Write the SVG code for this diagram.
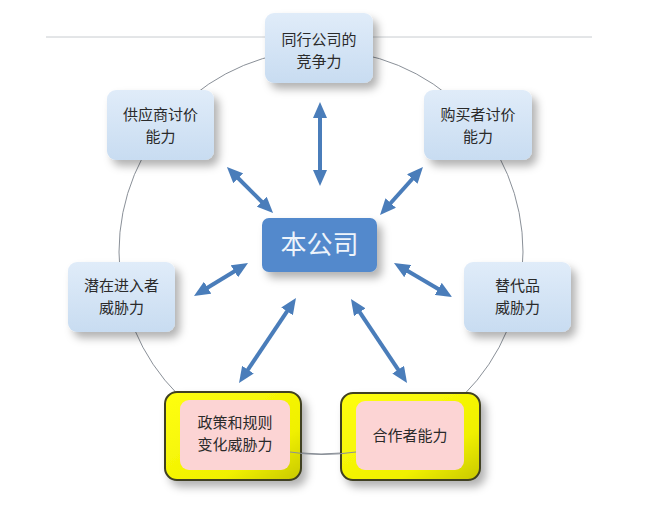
<svg xmlns="http://www.w3.org/2000/svg" width="658" height="524" viewBox="0 0 658 524">
<style>
.t{font-family:"Noto Sans CJK SC","Noto Sans",sans-serif;font-size:15px;fill:#2a2a2a;text-anchor:middle}
.bl{fill:url(#gb);filter:url(#sh)}
.ye{fill:url(#gy);stroke:#3f4020;stroke-width:2;filter:url(#sh)}
.pk{fill:#fcd4d4}
.ar{stroke:#4a7dba;stroke-width:4;fill:none;marker-start:url(#ah);marker-end:url(#ah)}
</style>
<defs>
<linearGradient id="gb" x1="0" y1="0" x2="0" y2="1"><stop offset="0" stop-color="#e0ecf9"/><stop offset="1" stop-color="#c8dcf1"/></linearGradient>
<linearGradient id="gy" x1="0" y1="0" x2="1" y2="1"><stop offset="0" stop-color="#ffff10"/><stop offset="0.7" stop-color="#f0f000"/><stop offset="1" stop-color="#c8c800"/></linearGradient>
<filter id="sh" x="-20%" y="-20%" width="150%" height="160%"><feDropShadow dx="5" dy="6" stdDeviation="4" flood-color="#000" flood-opacity="0.3"/></filter>
<marker id="ah" markerUnits="userSpaceOnUse" markerWidth="16" markerHeight="14" viewBox="0 0 16 14" refX="6" refY="7" orient="auto-start-reverse"><path d="M0,0 L16,7 L0,14 z" fill="#4a7dba"/></marker>
</defs>
<rect width="658" height="524" fill="#fff"/>
<line x1="46" y1="37" x2="592" y2="37" stroke="#c8ccd0" stroke-width="1"/>
<circle cx="321" cy="252" r="202" fill="none" stroke="#8a9098" stroke-width="1"/>
<g id="connectors">
<line class="ar" x1="320" y1="112" x2="320" y2="176"/>
<line class="ar" x1="234" y1="174" x2="266" y2="206"/>
<line class="ar" x1="416.3" y1="174.5" x2="386.7" y2="207.5"/>
<line class="ar" x1="239.5" y1="268.2" x2="202.5" y2="290.8"/>
<line class="ar" x1="402.6" y1="268.1" x2="443.4" y2="291.9"/>
<line class="ar" x1="290.4" y1="306.3" x2="244.6" y2="374.7"/>
<line class="ar" x1="356.5" y1="307.3" x2="401.5" y2="374.7"/>
</g>
<g id="center"><rect x="262" y="218" width="115" height="54" rx="7" fill="#5289cc" filter="url(#sh)"/><text x="319.5" y="254" class="t" style="font-size:26px;fill:#eef4fb">本公司</text></g>
<g id="top"><rect class="bl" x="265" y="13" width="108" height="70" rx="9"/><text class="t" x="319" y="45">同行公司的</text><text class="t" x="319" y="67">竞争力</text></g>
<g id="supplier"><rect class="bl" x="107" y="90" width="107" height="70" rx="9"/><text class="t" x="160.5" y="120">供应商讨价</text><text class="t" x="160.5" y="142">能力</text></g>
<g id="buyer"><rect class="bl" x="424" y="90" width="108" height="70" rx="9"/><text class="t" x="478" y="120">购买者讨价</text><text class="t" x="478" y="142">能力</text></g>
<g id="entrant"><rect class="bl" x="68" y="262" width="107" height="70" rx="9"/><text class="t" x="121.5" y="291">潜在进入者</text><text class="t" x="121.5" y="313">威胁力</text></g>
<g id="substitute"><rect class="bl" x="464" y="262" width="107" height="70" rx="9"/><text class="t" x="517.5" y="291">替代品</text><text class="t" x="517.5" y="313">威胁力</text></g>
<g id="policy"><rect class="ye" x="165" y="392" width="136" height="88" rx="12"/><rect class="pk" x="180" y="400" width="110" height="70" rx="9"/><text class="t" x="235" y="428">政策和规则</text><text class="t" x="235" y="450">变化威胁力</text></g>
<g id="partner"><rect class="ye" x="341" y="393" width="139" height="87" rx="12"/><rect class="pk" x="356" y="401" width="108" height="69" rx="9"/><text class="t" x="410" y="441">合作者能力</text></g>
<path d="M290,452 Q321,457 356,452" fill="none" stroke="#8a9098" stroke-width="1"/>
</svg>
